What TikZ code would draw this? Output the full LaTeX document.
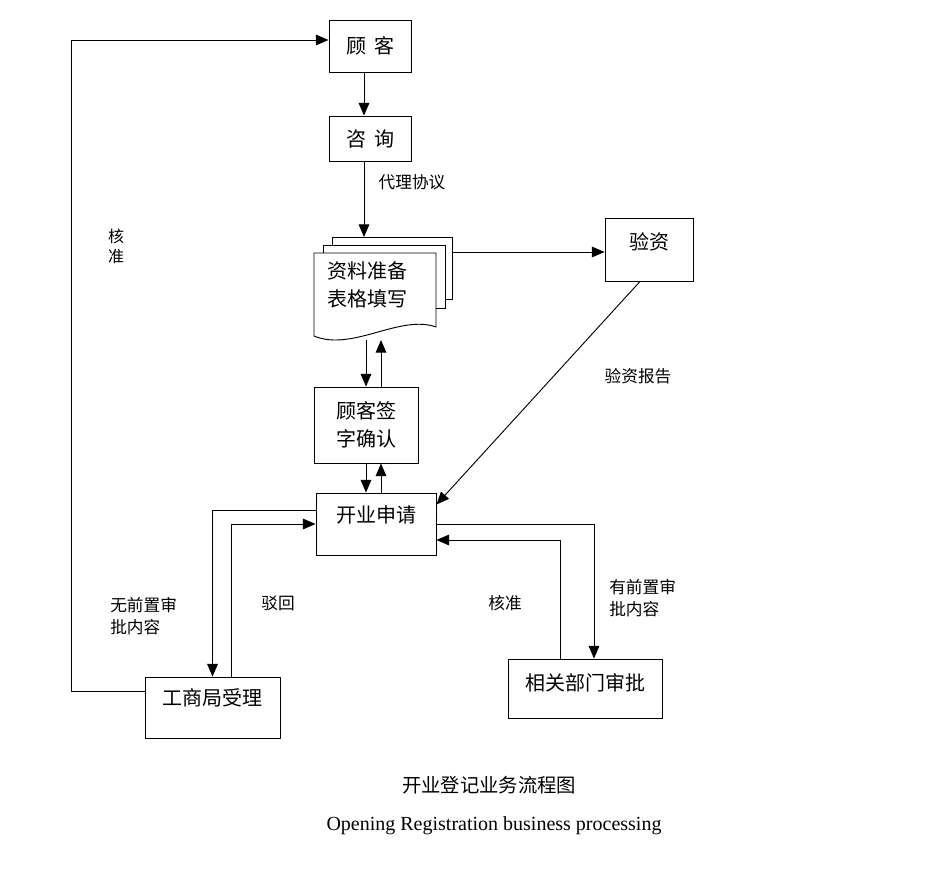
\documentclass[tikz,border=0pt]{standalone}
\usepackage{fontspec}
\setmainfont{Liberation Serif}
\newfontfamily\cjk{Noto Sans CJK SC}
\usetikzlibrary{arrows.meta}

\begin{document}
\begin{tikzpicture}[x=0.75pt,y=-0.75pt,
  line/.style={line width=0.7pt},
  arr/.style={line,-{Triangle[length=9.5pt,width=8pt]}},
  blk/.style={draw,line width=0.7pt,font=\cjk\fontsize{15}{21}\selectfont,align=center,inner sep=0pt},
  lbl/.style={font=\cjk\fontsize{12.5}{16.5}\selectfont,align=left,inner sep=0pt}]
\useasboundingbox (0,0) rectangle (941,868);

% boxes
\node[blk,minimum width=61.5pt,minimum height=39pt] (gk) at (370,46) {顾\hspace{6pt}客};
\node[blk,minimum width=61.5pt,minimum height=33.75pt] (zx) at (370,138.5) {咨\hspace{6pt}询};
\node[blk,minimum width=66pt,minimum height=47.25pt,text depth=12pt] (yz) at (649,249.5) {验资};
\node[blk,minimum width=78pt,minimum height=57pt,align=left] (qz) at (366,425) {顾客签\\字确认};
\node[blk,minimum width=90pt,minimum height=46.5pt,text depth=15pt] (kysq) at (376,524) {开业申请};
\node[blk,minimum width=101.25pt,minimum height=45.75pt,text depth=16pt] (gsj) at (212.5,707.5) {工商局受理};
\node[blk,minimum width=115.5pt,minimum height=44.25pt,text depth=10pt] (xgbm) at (585,688.5) {相关部门审批};

% document stack
\draw[line] (332,245) -- (332,237) -- (452,237) -- (452,299) -- (445,299);
\draw[line] (323,253) -- (323,245) -- (445,245) -- (445,308) -- (436,308);
\draw[line] (314,253) -- (436,253) -- (436,327) .. controls (400,314) and (352,352) .. (314,336) -- cycle;
\node[blk,draw=none] (wd) at (367,285) {资料准备\\表格填写};

\coordinate (wdtop) at (364,237);
\coordinate (wdbot) at (366,340);
\coordinate (wdr) at (452,252);
\coordinate (mid) at (364,0);
\coordinate (up) at (381,0);

% connectors
\draw[arr] (gk.south -| mid) -- (zx.north -| mid);
\draw[arr] (zx.south -| mid) -- (wdtop);
\draw[arr] (wdr) -- (yz.west |- wdr);
\draw[arr] ([xshift=-6.75pt]yz.south) -- ([yshift=-9pt]kysq.north east);
\draw[arr] (wdbot) -- (qz.north);
\draw[arr] (qz.north -| up) -- (wdbot -| up);
\draw[arr] (qz.south) -- (qz.south |- kysq.north);
\draw[arr] (kysq.north -| up) -- (qz.south -| up);
\draw[arr] ([yshift=10.5pt]kysq.west) -| (gsj.north);
\draw[arr] ([xshift=14pt]gsj.north) |- (kysq.west);
\draw[arr] (kysq.east) -| ([xshift=6.75pt]xgbm.north);
\draw[arr] ([xshift=-18.75pt]xgbm.north) |- ([yshift=-12pt]kysq.east);
\draw[arr] ([yshift=12.4pt]gsj.west) -- ++(-73,0) |- ([yshift=4.5pt]gk.west);

% labels
\node[lbl] (dl) at (412,182) {代理协议};
\node[lbl] (yzbg) at (638,376) {验资报告};
\node[lbl,font=\cjk\fontsize{12}{15}\selectfont] (hz1) at (116,246) {核\\准};
\node[lbl,anchor=west] (wqz) at (110,616) {无前置审\\批内容};
\node[lbl] (bh) at (278,603) {驳回};
\node[lbl] (hz2) at (505,603) {核准};
\node[lbl,anchor=west] (yqz) at (609,598) {有前置审\\批内容};

% caption
\node[font=\cjk\fontsize{14.5}{17}\selectfont] (cap1) at (489,785) {开业登记业务流程图};
\node[font=\fontsize{15}{18}\selectfont] (cap2) at (494,826) {Opening Registration business processing};
\end{tikzpicture}
\end{document}
